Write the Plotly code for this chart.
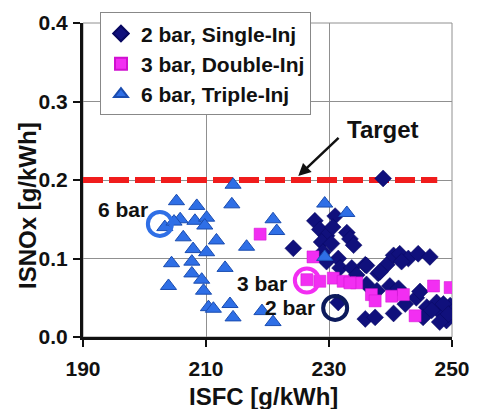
import plotly.graph_objects as go

# 2 bar, Single-Inj (diamonds)
isfc_2bar = [238.8, 224.2, 227.7, 228.5, 229.6, 228.8, 230.4, 231.0, 232.9, 233.4, 234.0,
             229.6, 231.5, 231.8, 233.7, 235.9, 238.0, 239.4, 240.5, 241.5, 242.9, 244.5,
             246.4, 241.8, 239.9, 244.2, 235.9, 237.5, 240.5, 245.9, 247.5, 248.3, 249.1,
             249.7, 231.5, 234.5, 236.1, 237.8, 242.4, 245.3, 246.7, 236.1, 238.3, 241.3,
             244.8, 248.6, 249.4, 248.0, 230.6, 229.0]
isnox_2bar = [0.202, 0.113, 0.148, 0.137, 0.129, 0.121, 0.119, 0.154, 0.133, 0.125, 0.117,
              0.096, 0.100, 0.088, 0.088, 0.092, 0.081, 0.092, 0.104, 0.106, 0.100, 0.106,
              0.102, 0.096, 0.065, 0.050, 0.023, 0.025, 0.030, 0.038, 0.044, 0.030, 0.021,
              0.040, 0.044, 0.079, 0.067, 0.059, 0.042, 0.025, 0.034, 0.091, 0.083, 0.062,
              0.058, 0.042, 0.029, 0.019, 0.140, 0.108]

# 3 bar, Double-Inj (squares)
isfc_3bar = [218.8, 227.4, 226.4, 228.5, 230.7, 232.3, 234.5, 236.9, 237.5, 240.2,
             242.1, 244.0, 247.0, 249.7, 233.4]
isnox_3bar = [0.131, 0.102, 0.073, 0.071, 0.075, 0.071, 0.069, 0.054, 0.046, 0.052,
              0.054, 0.027, 0.065, 0.063, 0.069]

# 6 bar, Triple-Inj (triangles)
isfc_6bar = [205.2, 203.3, 205.8, 208.5, 208.2, 210.1, 209.8, 206.3, 207.9, 211.7,
             210.1, 204.4, 207.7, 207.7, 203.9, 209.3, 209.6, 210.4, 211.2, 213.1,
             213.9, 214.4, 214.2, 214.4, 216.6, 219.1, 220.9, 221.5, 220.9, 229.3,
             229.3, 232.9, 204.8]
isnox_6bar = [0.173, 0.140, 0.150, 0.167, 0.148, 0.152, 0.142, 0.127, 0.112, 0.123,
              0.108, 0.094, 0.096, 0.081, 0.065, 0.073, 0.059, 0.038, 0.036, 0.088,
              0.042, 0.025, 0.169, 0.194, 0.115, 0.033, 0.150, 0.135, 0.019, 0.170,
              0.102, 0.158, 0.147]

target_x = [190, 247.6]
target_y = [0.2, 0.2]

x_ticks = [190, 210, 230, 250]
y_ticks = [0.0, 0.1, 0.2, 0.3, 0.4]

FONT = "'Liberation Sans', Arial, sans-serif"
INK = "#111111"

fig = go.Figure()

fig.add_trace(go.Scatter(x=target_x, y=target_y, mode="lines", showlegend=False,
                         line=dict(color="#f01c1c", width=6, dash="20px,6px"),
                         hoverinfo="skip"))

fig.add_trace(go.Scatter(x=isfc_2bar, y=isnox_2bar, mode="markers", name="<b>2 bar, Single-Inj</b>",
                         marker=dict(symbol="diamond", size=13, color="#10107c",
                                     line=dict(color="#080860", width=0.5))))
fig.add_trace(go.Scatter(x=isfc_3bar, y=isnox_3bar, mode="markers", name="<b>3 bar, Double-Inj</b>",
                         marker=dict(symbol="square", size=12, color="#f22ef2",
                                     line=dict(color="#d010d0", width=0.5))))
fig.add_trace(go.Scatter(x=isfc_6bar, y=isnox_6bar, mode="markers", name="<b>6 bar, Triple-Inj</b>",
                         marker=dict(symbol="triangle-up", size=14, color="#2f6fe6",
                                     line=dict(color="#1a4cb0", width=1))))

# highlight circles
circ_x = [202.5, 226.4, 231.0]
circ_y = [0.144, 0.072, 0.037]
circ_col = ["#2f6fe6", "#f22ef2", "#0c1a5c"]
for cx, cy, cc in zip(circ_x, circ_y, circ_col):
    fig.add_trace(go.Scatter(x=[cx], y=[cy], mode="markers", showlegend=False,
                             marker=dict(symbol="circle-open", size=24, color=cc,
                                         line=dict(color=cc, width=4)),
                             hoverinfo="skip"))

ann_font = dict(family=FONT, size=21, color=INK)
annotations = [
    dict(x=196.5, y=0.162, text="<b>6 bar</b>", showarrow=False, font=ann_font),
    dict(x=219.1, y=0.0685, text="<b>3 bar</b>", showarrow=False, font=ann_font),
    dict(x=223.7, y=0.0374, text="<b>2 bar</b>", showarrow=False, font=ann_font),
    dict(x=238.8, y=0.264, text="<b>Target</b>", showarrow=False,
         font=dict(family=FONT, size=24, color=INK)),
    dict(x=225, y=0.205, ax=231.8, ay=0.2555, axref="x", ayref="y", text="",
         showarrow=True, arrowhead=2, arrowsize=1, arrowwidth=2.5, arrowcolor=INK),
    dict(x=0.488, y=-0.19, xref="paper", yref="paper", xanchor="center", yanchor="middle",
         text="<b>ISFC [g/kWh]</b>",
         showarrow=False, font=dict(family=FONT, size=24, color=INK)),
    dict(x=-0.152, y=0.42, xref="paper", yref="paper", xanchor="center", yanchor="middle",
         text="<b>ISNOx [g/kWh]</b>",
         textangle=-90, showarrow=False, font=dict(family=FONT, size=24, color=INK)),
]

fig.update_layout(
    width=481, height=409,
    margin=dict(l=83, r=29, t=16, b=72),
    paper_bgcolor="white", plot_bgcolor="white",
    showlegend=True,
    legend=dict(x=0.046, y=1.034, xanchor="left", yanchor="top",
                bgcolor="white", bordercolor="#888888", borderwidth=1,
                font=dict(family=FONT, size=21, color=INK),
                itemsizing="constant", tracegroupgap=0),
    annotations=annotations,
    shapes=[dict(type="rect", xref="paper", yref="paper", x0=0, y0=0, x1=1, y1=1,
                 line=dict(color="#909090", width=1), layer="below")],
)

fig.update_xaxes(range=[190, 250], tickvals=x_ticks, ticktext=[str(v) for v in x_ticks],
                 showgrid=True, gridcolor="#909090", gridwidth=1,
                 showline=True, linecolor=INK, linewidth=3,
                 ticks="outside", ticklen=7, tickwidth=2, tickcolor=INK,
                 ticklabelstandoff=4,
                 tickfont=dict(family=FONT, size=21, color=INK, weight="bold"),
                 zeroline=False)
fig.update_yaxes(range=[0, 0.4], tickvals=y_ticks, ticktext=[f"{v:.1f}" for v in y_ticks],
                 showgrid=True, gridcolor="#909090", gridwidth=1,
                 showline=True, linecolor=INK, linewidth=3,
                 ticks="outside", ticklen=7, tickwidth=2, tickcolor=INK,
                 ticklabelstandoff=1,
                 tickfont=dict(family=FONT, size=21, color=INK, weight="bold"),
                 zeroline=False)

fig.write_html("out.html")
